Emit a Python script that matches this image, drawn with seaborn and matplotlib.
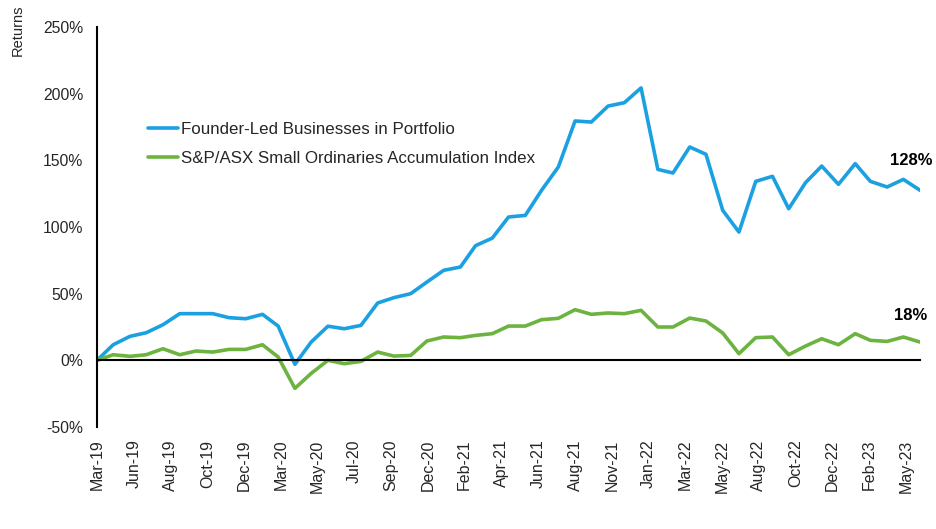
import matplotlib
matplotlib.use("Agg")
import matplotlib.pyplot as plt
import matplotlib.ticker as mticker
import numpy as np
import pandas as pd
import seaborn as sns

# month-end observations, Mar-19 .. May-23
dates = pd.date_range("2019-03-31", "2023-05-31", freq="ME")

founder_led = [
    0, 11.7, 18, 20.7, 26.7, 35, 35, 35, 32, 31.2,
    34.5, 25.7, -3, 13.7, 25.6, 23.7, 26.2, 43, 47, 50,
    58.7, 67.5, 70, 86, 91.7, 107.5, 108.7, 127.5, 145, 179.5,
    178.7, 190.7, 193.2, 204.3, 143.2, 140.5, 160, 154.5, 112.5, 96.2,
    134.2, 138, 113.7, 133.2, 145.7, 132, 147.5, 134.2, 130, 135.7,
    127.5,
]
small_ords = [
    0, 4.2, 3, 4.2, 8.7, 4.2, 7, 6.2, 8.2, 8.2,
    11.7, 2.5, -21, -9.8, 0, -2.5, -0.8, 6.2, 3.2, 3.7,
    14.5, 17.5, 17, 18.7, 20, 25.7, 25.7, 30.5, 31.5, 38,
    34.5, 35.5, 35, 37.5, 25, 25, 31.7, 29.5, 20.5, 5,
    17, 17.5, 4.2, 10.7, 16.2, 11.7, 20, 15, 14.2, 17.5,
    13.7,
]

series_names = [
    "Founder-Led Businesses in Portfolio",
    "S&P/ASX Small Ordinaries Accumulation Index",
]
series_colors = ["#1BA1E2", "#6CB43F"]
end_labels = ["128%", "18%"]
end_label_y = [150, 34]

# Excel-style date axis: major unit of 68 days
tick_dates = pd.date_range(dates[0], periods=23, freq="68D")
tick_labels = [
    "Mar-19", "Jun-19", "Aug-19", "Oct-19", "Dec-19", "Mar-20", "May-20",
    "Jul-20", "Sep-20", "Dec-20", "Feb-21", "Apr-21", "Jun-21", "Aug-21",
    "Nov-21", "Jan-22", "Mar-22", "May-22", "Aug-22", "Oct-22", "Dec-22",
    "Feb-23", "May-23",
]

df = pd.DataFrame({
    "date": np.tile(dates, 2),
    "value": founder_led + small_ords,
    "series": np.repeat(series_names, len(dates)),
})

sns.set_style("white")
plt.rcParams["font.family"] = ["Liberation Sans", "DejaVu Sans"]

fig = plt.figure(figsize=(9.37, 5.29), dpi=100)
ax = fig.add_axes([0.1035, 0.1928, 0.8785, 0.7562])

sns.lineplot(
    data=df, x="date", y="value", hue="series",
    palette=dict(zip(series_names, series_colors)),
    linewidth=2.6, ax=ax,
)

ax.set_xlim(dates[0], dates[-1])
ax.set_ylim(-50, 250)
ax.yaxis.set_major_locator(mticker.MultipleLocator(50))
ax.yaxis.set_major_formatter(mticker.FuncFormatter(lambda v, _: f"{v:.0f}%"))
ax.tick_params(axis="y", length=0, labelsize=11.3, pad=10)

ax.set_xticks(tick_dates)
ax.set_xticklabels(tick_labels)
ax.tick_params(axis="x", direction="out", length=4, width=1.2, pad=53,
               color="black", labelsize=11.5, labelrotation=90)
ax.set_xlabel("")
ax.set_ylabel("")

for side in ["top", "right"]:
    ax.spines[side].set_visible(False)
ax.spines["bottom"].set_position(("data", 0))
for side in ["left", "bottom"]:
    ax.spines[side].set_color("black")
    ax.spines[side].set_linewidth(1.5)

ax.legend(
    frameon=False, loc="upper left", bbox_to_anchor=(0.043, 0.80),
    fontsize=12.2, handlelength=1.8, handletextpad=0.15, labelspacing=0.8,
)

for label, y in zip(end_labels, end_label_y):
    ax.text(dates[-1] - pd.Timedelta(days=17), y, label, ha="center",
            va="center", fontsize=12, fontweight="bold", color="black")

fig.text(0.019, 1 - 30 / 529, "Returns", rotation=90, ha="center",
         va="center", fontsize=10.5)

fig.savefig("out.png", dpi=100)
